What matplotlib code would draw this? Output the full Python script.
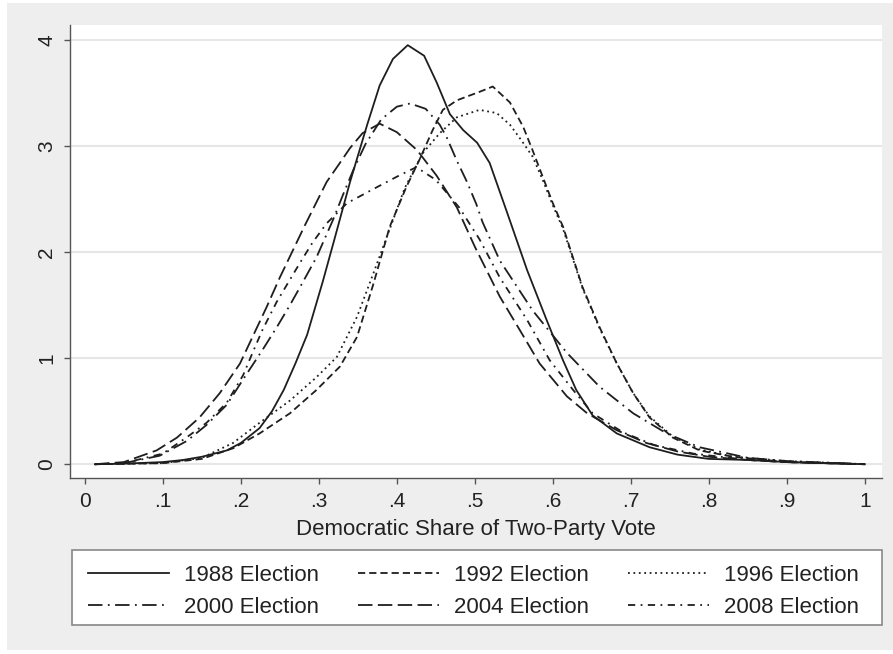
import matplotlib
matplotlib.use("Agg")
import matplotlib.pyplot as plt
from matplotlib.patches import Rectangle

plt.rcParams['font.family'] = ['Liberation Sans', 'DejaVu Sans']

# Density estimates (x = Democratic share, y = density)
x1988 = [0.013, 0.05, 0.10, 0.126, 0.15, 0.182, 0.20, 0.224, 0.24, 0.255, 0.27, 0.285, 0.305,
         0.32, 0.34, 0.362, 0.378, 0.395, 0.414, 0.435, 0.451, 0.468, 0.485, 0.503, 0.519,
         0.541, 0.567, 0.592, 0.613, 0.63, 0.651, 0.682, 0.724, 0.76, 0.80, 0.85, 0.90, 0.95, 1.0]
y1988 = [0.0, 0.005, 0.02, 0.04, 0.07, 0.13, 0.20, 0.34, 0.50, 0.70, 0.95, 1.22, 1.72,
         2.12, 2.66, 3.20, 3.57, 3.82, 3.95, 3.85, 3.60, 3.30, 3.15, 3.03, 2.84,
         2.38, 1.83, 1.36, 0.98, 0.70, 0.46, 0.29, 0.16, 0.09, 0.05, 0.04, 0.02, 0.01, 0.0]

x1992 = [0.013, 0.10, 0.15, 0.19, 0.224, 0.263, 0.297, 0.327, 0.349, 0.37, 0.391, 0.412, 0.429,
         0.446, 0.459, 0.477, 0.506, 0.523, 0.545, 0.562, 0.574, 0.587, 0.60, 0.613, 0.638,
         0.66, 0.682, 0.703, 0.724, 0.754, 0.788, 0.831, 0.90, 1.0]
y1992 = [0.0, 0.01, 0.05, 0.15, 0.29, 0.48, 0.70, 0.92, 1.20, 1.70, 2.24, 2.61, 2.87,
         3.15, 3.34, 3.43, 3.51, 3.56, 3.41, 3.18, 2.96, 2.71, 2.46, 2.24, 1.67,
         1.29, 0.95, 0.67, 0.44, 0.25, 0.13, 0.07, 0.02, 0.0]

x1996 = [0.013, 0.10, 0.15, 0.19, 0.224, 0.263, 0.297, 0.323, 0.349, 0.37, 0.39, 0.41, 0.433,
         0.455, 0.477, 0.506, 0.528, 0.545, 0.56, 0.574, 0.587, 0.60, 0.613, 0.638, 0.66,
         0.682, 0.703, 0.724, 0.754, 0.788, 0.831, 0.90, 1.0]
y1996 = [0.0, 0.01, 0.06, 0.20, 0.39, 0.60, 0.82, 1.01, 1.39, 1.80, 2.20, 2.60, 2.93,
         3.12, 3.27, 3.34, 3.31, 3.20, 3.05, 2.90, 2.68, 2.44, 2.22, 1.66, 1.28,
         0.95, 0.67, 0.45, 0.26, 0.14, 0.07, 0.03, 0.0]

x2000 = [0.013, 0.05, 0.096, 0.131, 0.156, 0.182, 0.203, 0.228, 0.246, 0.263, 0.279, 0.297,
         0.318, 0.331, 0.344, 0.36, 0.38, 0.40, 0.417, 0.437, 0.455, 0.464, 0.477, 0.49,
         0.502, 0.51, 0.532, 0.574, 0.618, 0.66, 0.703, 0.746, 0.788, 0.85, 0.90, 1.0]
y2000 = [0.0, 0.01, 0.08, 0.22, 0.37, 0.56, 0.80, 1.08, 1.29, 1.50, 1.71, 1.95,
         2.30, 2.54, 2.77, 3.02, 3.25, 3.37, 3.40, 3.35, 3.20, 3.08, 2.86, 2.66,
         2.45, 2.28, 1.92, 1.45, 1.05, 0.73, 0.48, 0.29, 0.16, 0.06, 0.03, 0.0]

x2004 = [0.013, 0.05, 0.092, 0.118, 0.147, 0.173, 0.199, 0.215, 0.233, 0.25, 0.267, 0.282,
         0.297, 0.31, 0.327, 0.34, 0.356, 0.378, 0.40, 0.426, 0.451, 0.477, 0.50, 0.532,
         0.558, 0.583, 0.618, 0.644, 0.682, 0.72, 0.76, 0.80, 0.85, 0.90, 1.0]
y2004 = [0.0, 0.02, 0.13, 0.25, 0.44, 0.67, 0.95, 1.20, 1.48, 1.76, 2.02, 2.25,
         2.47, 2.66, 2.84, 2.98, 3.12, 3.21, 3.13, 2.96, 2.72, 2.42, 2.05, 1.58,
         1.26, 0.95, 0.64, 0.48, 0.32, 0.20, 0.12, 0.07, 0.04, 0.02, 0.0]

x2008 = [0.013, 0.05, 0.10, 0.13, 0.156, 0.182, 0.203, 0.215, 0.228, 0.246, 0.263, 0.276,
         0.292, 0.31, 0.336, 0.369, 0.40, 0.425, 0.45, 0.48, 0.506, 0.532, 0.567, 0.596,
         0.626, 0.651, 0.69, 0.73, 0.78, 0.85, 0.90, 1.0]
y2008 = [0.0, 0.01, 0.10, 0.25, 0.39, 0.58, 0.84, 1.05, 1.27, 1.53, 1.74, 1.90,
         2.09, 2.27, 2.46, 2.59, 2.71, 2.80, 2.68, 2.42, 2.12, 1.76, 1.36, 0.98,
         0.70, 0.48, 0.30, 0.18, 0.10, 0.04, 0.02, 0.0]

labels = ["1988 Election", "1992 Election", "1996 Election",
          "2000 Election", "2004 Election", "2008 Election"]
xticks = [0, .1, .2, .3, .4, .5, .6, .7, .8, .9, 1]
xticklabels = ["0", ".1", ".2", ".3", ".4", ".5", ".6", ".7", ".8", ".9", "1"]
yticks = [0, 1, 2, 3, 4]

W, H = 893, 654
fig = plt.figure(figsize=(W/100, H/100), dpi=100, facecolor="white")
fig.patches.append(Rectangle((7/W, 4/H), 886/W, 647/H, transform=fig.transFigure,
                             facecolor="#eeeeee", edgecolor="none", zorder=-10))
# legend box drawn separately so the entries can sit where they do in the original
fig.patches.append(Rectangle((72/W, 1-625/H), 810/W, 75/H, transform=fig.transFigure,
                             facecolor="white", edgecolor="#888888", lw=1.2, zorder=-5))
ax = fig.add_axes([70/W, 1-478/H, 812/W, 453/H])
ax.set_facecolor("white")

lc = "#1e1e1e"
lw = 1.3
lines = []
lines += ax.plot(x1988, y1988, color=lc, lw=lw, linestyle="-", label=labels[0])
lines += ax.plot(x1992, y1992, color=lc, lw=lw, linestyle=(0, (4, 2.2)), label=labels[1])
lines += ax.plot(x1996, y1996, color=lc, lw=lw, linestyle=(0, (1, 2)), label=labels[2])
lines += ax.plot(x2000, y2000, color=lc, lw=lw, linestyle=(0, (8, 3, 1, 3)), label=labels[3])
lines += ax.plot(x2004, y2004, color=lc, lw=lw, linestyle=(0, (8, 3)), label=labels[4])
lines += ax.plot(x2008, y2008, color=lc, lw=lw, linestyle=(0, (4, 3, 1, 3)), label=labels[5])

ax.set_xlim(-0.019, 1.022)
ax.set_ylim(-0.13, 4.14)
ax.set_xticks(xticks)
ax.set_xticklabels(xticklabels)
ax.set_yticks(yticks)
ax.set_yticklabels([str(v) for v in yticks], rotation=90, va="center")
ax.grid(axis="y", color="#e6e6e6", lw=1.5)
ax.set_axisbelow(True)
for s in ["top", "right"]:
    ax.spines[s].set_visible(False)
for s in ["left", "bottom"]:
    ax.spines[s].set_color("#555555")
    ax.spines[s].set_linewidth(1.0)
ax.tick_params(direction="out", length=4, width=1, color="#555555",
               labelsize=15, labelcolor="#222222", pad=6)
ax.set_xlabel("Democratic Share of Two-Party Vote", fontsize=16, color="#222222", labelpad=6)

# legend fills row by row like the original (matplotlib fills column-wise)
order = [0, 3, 1, 4, 2, 5]
leg = fig.legend([lines[i] for i in order], [labels[i] for i in order],
                 loc="center", bbox_to_anchor=(88/W, 1-629/H, 771/W, 75/H),
                 mode="expand", borderaxespad=0, ncol=3, fontsize=16, handlelength=3.65,
                 handletextpad=0.68, labelspacing=0.5, borderpad=0,
                 frameon=False)
for t in leg.get_texts():
    t.set_color("#222222")

fig.savefig("out.png", dpi=100, facecolor=fig.get_facecolor())
